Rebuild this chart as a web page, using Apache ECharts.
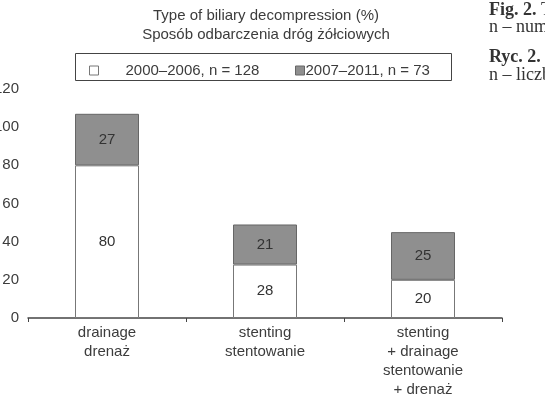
<!DOCTYPE html>
<html>
<head>
    <meta charset="utf-8">
    <script type="text/javascript" src="https://cdn.jsdelivr.net/npm/echarts@6/dist/echarts.min.js"></script>
    <style>
        html, body { margin: 0; padding: 0; background: #fff; }
    </style>
</head>
<body>
<div id="main" style="width:545px;height:400px;"></div>
<script type="text/javascript">
    // kategorie i dane (%)
    var categories = ['drainage\ndrenaż', 'stenting\nstentowanie', 'stenting\n+ drainage\nstentowanie\n+ drenaż'];
    var yTicks = [0, 20, 40, 60, 80, 100, 120];
    var seriesNames = ['2000–2006, n = 128', '2007–2011, n = 73'];
    var early = [80, 28, 20];
    var late = [27, 21, 25];

    var txt = '#3c3c3c';
    var font = 'Liberation Sans';
    var fs = 15;

    var myChart = echarts.init(document.getElementById('main'));
    var option = {
        animation: false,
        backgroundColor: '#fff',
        textStyle: { fontFamily: font, color: txt },
        title: {
            text: 'Type of biliary decompression (%)\nSposób odbarczenia dróg żółciowych',
            left: 261,
            top: 1,
            textAlign: 'center',
            textStyle: { fontFamily: font, fontSize: fs, fontWeight: 'normal', color: txt, lineHeight: 19 }
        },
        // dwie legendy, bo odstępy ikona-tekst są różne
        legend: [
            {
                data: [{ name: seriesNames[0], icon: 'rect' }],
                left: 84, top: 58,
                itemWidth: 9, itemHeight: 9, itemGap: 0,
                selectedMode: false,
                itemStyle: { borderColor: '#777', borderWidth: 1 },
                textStyle: { fontFamily: font, fontSize: fs, color: txt, padding: [0, 0, 0, 22] }
            },
            {
                data: [{ name: seriesNames[1], icon: 'rect' }],
                left: 290, top: 58,
                itemWidth: 9, itemHeight: 9, itemGap: 0,
                selectedMode: false,
                itemStyle: { borderColor: '#666', borderWidth: 1 },
                textStyle: { fontFamily: font, fontSize: fs, color: txt, padding: [0, 0, 0, -4] }
            }
        ],
        graphic: [
            {
                type: 'rect', left: 75, top: 53, z: -1,
                shape: { width: 376, height: 27 },
                style: { fill: '#fff', stroke: '#444', lineWidth: 1 }
            },
            {
                type: 'text', left: 489, top: 1,
                style: { text: '{b|Fig. 2.} Type of biliary', fill: '#333', font: '18px "Liberation Serif"',
                    rich: { b: { fontWeight: 'bold', fontFamily: 'Liberation Serif', fontSize: 18 } } }
            },
            {
                type: 'text', left: 489, top: 18,
                style: { text: 'n – number', fill: '#333', font: '18px "Liberation Serif"' }
            },
            {
                type: 'text', left: 489, top: 48,
                style: { text: '{b|Ryc. 2.} Sposób', fill: '#333', font: '18px "Liberation Serif"',
                    rich: { b: { fontWeight: 'bold', fontFamily: 'Liberation Serif', fontSize: 18 } } }
            },
            {
                type: 'text', left: 489, top: 66,
                style: { text: 'n – liczba', fill: '#333', font: '18px "Liberation Serif"' }
            }
        ],
        // etykiety osi Y mają wychodzić poza lewą krawędź, jak w oryginale
        grid: { left: 28, right: 43, top: 89, bottom: 82, containLabel: false, outerBoundsMode: 'none' },
        xAxis: {
            type: 'category',
            data: categories,
            axisLine: { lineStyle: { color: '#444', width: 1.5 } },
            axisTick: { show: true, length: 4, lineStyle: { color: '#444' } },
            axisLabel: { fontFamily: font, fontSize: fs, color: txt, lineHeight: 19, margin: 5 }
        },
        yAxis: {
            type: 'value',
            min: yTicks[0],
            max: yTicks[yTicks.length - 1],
            interval: 20,
            axisLine: { show: false },
            axisTick: { show: false },
            splitLine: { show: false },
            axisLabel: { fontFamily: font, fontSize: fs, color: txt, margin: 9 }
        },
        series: [
            {
                name: seriesNames[0],
                type: 'bar',
                stack: 'a',
                barWidth: 64,
                data: early,
                itemStyle: { color: '#fff', borderColor: '#777', borderWidth: 1 },
                label: { show: true, position: 'inside', fontFamily: font, fontSize: fs, color: '#333' }
            },
            {
                name: seriesNames[1],
                type: 'bar',
                stack: 'a',
                barWidth: 64,
                data: late,
                itemStyle: { color: '#8f8f8f', borderColor: '#666', borderWidth: 1 },
                label: { show: true, position: 'inside', fontFamily: font, fontSize: fs, color: '#333' }
            }
        ]
    };
    myChart.setOption(option);
</script>
</body>
</html>
